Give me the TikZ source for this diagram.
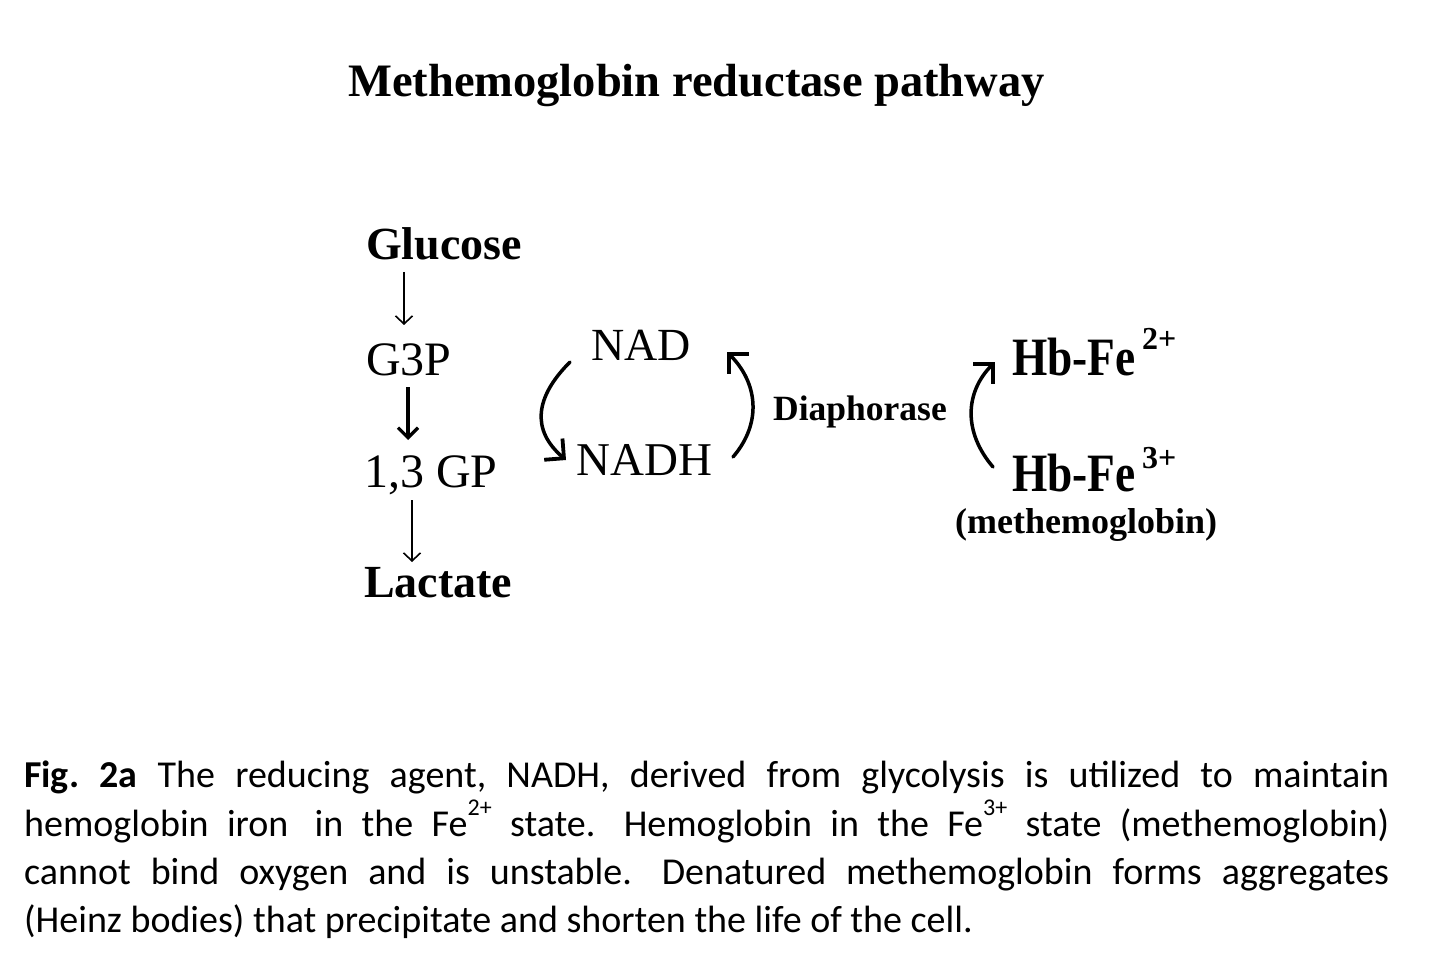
\documentclass[tikz,border=0pt]{standalone}
\usepackage{fontspec}
\setmainfont{Liberation Serif}
\newfontfamily\capfont{Carlito}
\usetikzlibrary{arrows.meta}
\newcommand{\fsz}[1]{\fontsize{#1}{#1}\selectfont}
\newcommand{\hisup}[1]{\raisebox{0.55em}{\fontsize{24}{24}\selectfont #1}}
\begin{document}
\frenchspacing
\begin{tikzpicture}[x=1pt,y=-1pt,
  txt/.style={inner sep=0pt, anchor=base west},
  thinarr/.style={line width=1.5pt, -{Straight Barb[length=8pt,width=17pt,line width=1.6pt]}},
  thickarr/.style={line width=3.3pt, -{Straight Barb[length=10pt,width=20pt,line width=3.2pt]}},
  curvearr/.style={line width=3.5pt, line cap=round, -{Straight Barb[length=14pt,width=28pt,line width=3.8pt]}},
  capline/.style={txt, font=\capfont\fontsize{38}{48}\selectfont}]
\useasboundingbox (0,0) rectangle (1440,973);

% title
\node[txt, font=\bfseries\fsz{46.5}] (title) at (348,97) {Methemoglobin reductase pathway};

% glycolysis column
\node[txt, font=\bfseries\fsz{46}] (glu) at (366,260) {Glucose};
\node[txt, font=\fsz{48}] (g3p) at (366,375) {G3P};
\node[txt, font=\fsz{48}] (gp13) at (364,487) {1,3 GP};
\node[txt, font=\bfseries\fsz{46}] (lac) at (364,597) {Lactate};

\draw[thinarr] ([xshift=38pt,yshift=-12pt]glu.base west) -- ([xshift=38pt,yshift=50pt]g3p.base west);
\draw[thickarr] ([xshift=42pt,yshift=-12pt]g3p.base west) -- ([xshift=44pt,yshift=47pt]gp13.base west);
\draw[thinarr] ([xshift=48pt,yshift=-13pt]gp13.base west) -- ([xshift=48pt,yshift=35pt]lac.base west);

% NAD cycle
\node[txt, font=\fsz{46}] (nad) at (591,360) {NAD};
\node[txt, font=\fsz{47}] (nadh) at (576,475) {NADH};
\draw[curvearr] ([xshift=-21pt,yshift=-2pt]nad.base west) .. controls +(-35,35) and +(-35,-30) .. ([xshift=-10pt,yshift=15pt]nadh.base west);
\draw[curvearr] ([xshift=157pt,yshift=18pt]nadh.base west) .. controls +(30,-35) and +(30,30) .. ([xshift=136pt,yshift=8pt]nad.base west);

\node[txt, font=\bfseries\fsz{35.5}] (dia) at (773,420) {Diaphorase};

% hemoglobin
\node[txt, font=\bfseries\fsz{54}] (hb2) at (1012,376) {\scalebox{0.84}[1]{Hb-Fe}};
\node[txt, font=\bfseries\fsz{32}] (s2) at (1142,350) {2+};
\node[txt, font=\bfseries\fsz{54}] (hb3) at (1012,491) {\scalebox{0.84}[1]{Hb-Fe}};
\node[txt, font=\bfseries\fsz{32}] (s3) at (1142,468) {3+};
\node[txt, font=\bfseries\fsz{36}] (meth) at (955,533) {(methemoglobin)};
\draw[curvearr] ([xshift=-19pt,yshift=24pt]hb3.base west) .. controls +(-30,-35) and +(-30,30) .. ([xshift=-17pt,yshift=14pt]hb2.base west);

% caption
\node[capline] (c1) at (24,787) {\makebox[1365pt][s]{\textbf{Fig.\ 2a} The reducing agent, NADH, derived from glycolysis is utilized to maintain}};
\node[capline] (c2) at (24,836) {\makebox[1365pt][s]{hemoglobin iron\hspace{8pt} in the Fe\hisup{2+} state.\hspace{10pt} Hemoglobin in the Fe\hisup{3+} state (methemoglobin)}};
\node[capline] (c3) at (24,884) {\makebox[1365pt][s]{cannot bind oxygen and is unstable.\hspace{10pt} Denatured methemoglobin forms aggregates}};
\node[capline] (c4) at (24,932) {(Heinz bodies) that precipitate and shorten the life of the cell.};
\end{tikzpicture}
\end{document}
